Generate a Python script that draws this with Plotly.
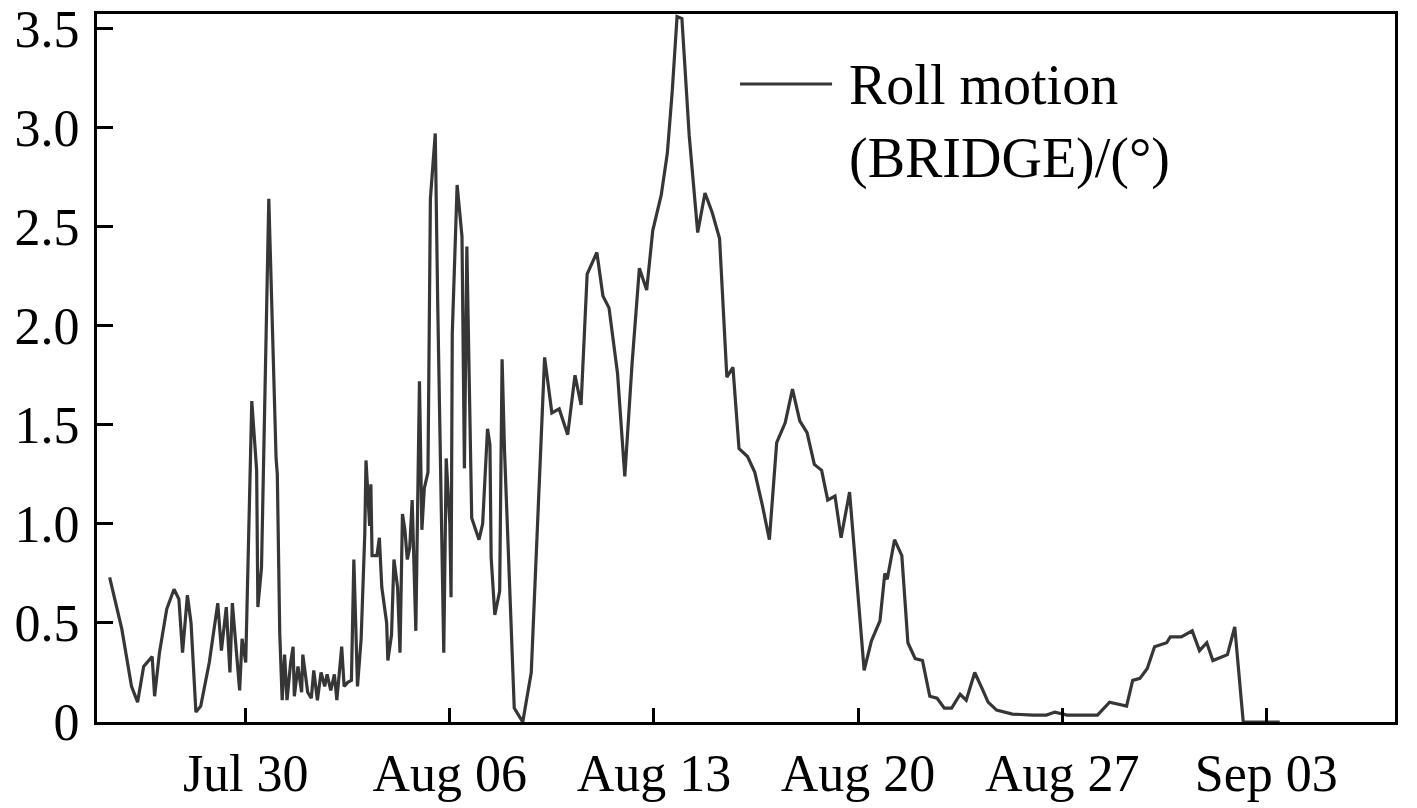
import pandas as pd
import plotly.graph_objects as go

base_date = "2019-07-30"

# time of each sample, hours relative to Jul 30 00:00
hours = [
    -112, -102, -94, -89, -84, -77, -75, -71, -65, -59, -55, -52, -48, -45, -41, -37,
    -30, -23, -20, -16, -13, -11, -5, -3, 0, 3, 5, 9, 10, 13, 19, 25, 26, 28,
    30, 32, 34, 37, 39, 40, 43, 46, 47, 51, 54, 56, 59, 62, 65, 67, 70, 73, 75,
    79, 81, 84, 87, 89, 92, 95, 98, 99, 102, 103, 104, 108, 110, 112, 116, 117,
    120, 122, 125, 127, 129, 131, 133, 135, 137, 139, 140, 143, 145, 147, 150,
    152, 156, 158, 159, 163, 165, 168, 169, 170, 174, 178, 180, 182, 186, 192,
    195, 199, 201, 202, 205, 209, 211, 213, 221, 228, 235, 246, 252, 258, 265,
    271, 276, 281, 289, 294, 299, 306, 312, 318, 324, 330, 335, 342, 347, 351,
    355, 359, 365, 372, 378, 384, 390, 396, 401, 406, 413, 419, 425, 431, 437,
    444, 450, 456, 462, 468, 474, 479, 485, 490, 497, 503, 509, 515, 522, 526,
    528, 534, 540, 545, 551, 557, 563, 569, 575, 581, 588, 593, 600, 606, 611,
    618, 631, 648, 659, 666, 676, 701, 711, 725, 730, 736, 742, 748, 758, 761,
    770, 779, 785, 791, 796, 808, 814, 821, 851,
]

roll = [
    0.73, 0.47, 0.18, 0.10, 0.28, 0.33, 0.13, 0.35, 0.57, 0.67, 0.62, 0.35, 0.64, 0.50, 0.05, 0.08,
    0.30, 0.60, 0.36, 0.58, 0.25, 0.60, 0.16, 0.42, 0.30, 1.17, 1.62, 1.27, 0.58, 0.78, 2.64, 1.33, 1.25, 0.45,
    0.11, 0.34, 0.11, 0.30, 0.38, 0.13, 0.28, 0.15, 0.34, 0.15, 0.12, 0.26, 0.11, 0.25, 0.18, 0.24, 0.16, 0.24, 0.11,
    0.38, 0.18, 0.20, 0.21, 0.82, 0.18, 0.42, 0.95, 1.32, 0.99, 1.20, 0.84, 0.84, 0.93, 0.68, 0.50, 0.31,
    0.44, 0.82, 0.68, 0.35, 1.05, 0.97, 0.82, 0.88, 1.12, 0.68, 0.46, 1.72, 0.97, 1.18, 1.26,
    2.64, 2.97, 2.12, 1.80, 0.35, 1.33, 1.00, 0.63, 1.96, 2.71, 2.45, 1.28, 2.40, 1.03, 0.92,
    1.00, 1.48, 1.40, 0.83, 0.54, 0.66, 1.83, 1.37, 0.07, 0.00, 0.25, 1.84, 1.56, 1.58, 1.45,
    1.75, 1.60, 2.26, 2.37, 2.15, 2.09, 1.76, 1.24, 1.81, 2.29, 2.18, 2.48, 2.66, 2.87, 3.18,
    3.56, 3.55, 2.96, 2.47, 2.67, 2.57, 2.44, 1.74, 1.79, 1.38, 1.34, 1.26, 1.10, 0.92, 1.41,
    1.51, 1.68, 1.52, 1.46, 1.30, 1.27, 1.12, 1.14, 0.93, 1.16, 0.69, 0.26, 0.41, 0.51, 0.75,
    0.72, 0.92, 0.84, 0.40, 0.32, 0.31, 0.13, 0.12, 0.07, 0.07, 0.14, 0.11, 0.25, 0.17, 0.10,
    0.06, 0.04, 0.035, 0.035, 0.05, 0.035, 0.035, 0.10, 0.08, 0.21, 0.22, 0.27, 0.38, 0.40, 0.43,
    0.43, 0.46, 0.36, 0.40, 0.31, 0.34, 0.48, 0.00, 0.00,
]

tick_dates = ["2019-07-30", "2019-08-06", "2019-08-13", "2019-08-20", "2019-08-27", "2019-09-03"]
tick_labels = ["Jul 30", "Aug 06", "Aug 13", "Aug 20", "Aug 27", "Sep 03"]
y_ticks = [0, 0.5, 1.0, 1.5, 2.0, 2.5, 3.0, 3.5]
y_labels = ["0", "0.5", "1.0", "1.5", "2.0", "2.5", "3.0", "3.5"]
series_name = "Roll motion<br>(BRIDGE)/(°)"

base = pd.Timestamp(base_date)
times = base + pd.to_timedelta(hours, unit="h")

line_color = "#363636"
font_family = "Liberation Serif, Times New Roman, serif"

fig = go.Figure()
fig.add_trace(go.Scatter(
    x=times, y=roll, mode="lines",
    line=dict(color=line_color, width=3.2),
    name=series_name, showlegend=False,
))

# manual legend (long key line like the reference)
fig.add_shape(type="line", xref="paper", yref="paper",
              x0=0.4954, x1=0.5663, y0=0.901, y1=0.901,
              line=dict(color=line_color, width=3))
fig.add_annotation(xref="paper", yref="paper", x=0.5778, y=0.946,
                   xanchor="left", yanchor="top", align="left",
                   text=series_name, showarrow=False,
                   font=dict(family=font_family, size=56, color="black"))

fig.update_layout(
    width=1417, height=808,
    margin=dict(l=97, r=22, t=14, b=86),
    paper_bgcolor="white", plot_bgcolor="white",
    font=dict(family=font_family, size=50, color="black"),
)
fig.update_xaxes(
    range=[base - pd.Timedelta(hours=122.4), base + pd.Timedelta(hours=945.9)],
    tickvals=[pd.Timestamp(d) for d in tick_dates], ticktext=tick_labels,
    ticks="inside", ticklen=14, tickwidth=3, tickcolor="black",
    showline=True, linewidth=3, linecolor="black", mirror=True,
    showgrid=False, zeroline=False, automargin=False,
    tickfont=dict(family=font_family, size=52, color="black"),
    ticklabelstandoff=4,
)
fig.update_yaxes(
    range=[0, 3.573],
    tickvals=y_ticks, ticktext=y_labels,
    ticks="inside", ticklen=16, tickwidth=3, tickcolor="black",
    showline=True, linewidth=3, linecolor="black", mirror=True,
    showgrid=False, zeroline=False, automargin=False,
    tickfont=dict(family=font_family, size=52, color="black"),
    ticklabelstandoff=4,
)

fig.write_html("out.html", config={"displayModeBar": False},
               post_script="document.body.style.margin='0';")
